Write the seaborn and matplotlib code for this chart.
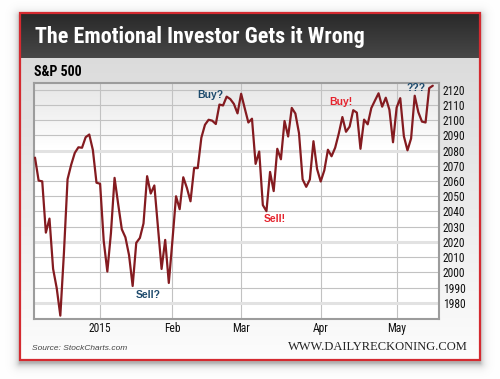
import numpy as np
import pandas as pd
import matplotlib
matplotlib.use("Agg")
import matplotlib.pyplot as plt
import matplotlib.font_manager as fm
import seaborn as sns
from matplotlib.patches import Rectangle

# S&P 500 daily closes, Dec 5 2014 - May 15 2015
START, END = "2014-12-05", "2015-05-15"
MARKET_HOLIDAYS = ["2014-12-25", "2015-01-01", "2015-01-19", "2015-02-16", "2015-04-03"]

CLOSE_DEC = [2075.4, 2060.3, 2059.8, 2026.1, 2035.3, 2002.3, 1989.6, 1971.5, 2012.9,
             2061.2, 2070.7, 2078.5, 2082.2, 2081.9, 2088.8, 2090.6, 2080.4, 2058.9]
CLOSE_JAN = [2058.2, 2020.6, 2000.5, 2025.9, 2062.1, 2044.8, 2028.3, 2023.0, 2011.3,
             1991.0, 2019.4, 2022.6, 2032.1, 2063.2, 2051.8, 2057.1, 2029.6, 2002.2,
             2021.3, 1993.0]
CLOSE_FEB = [2020.9, 2050.0, 2041.5, 2062.5, 2055.5, 2046.7, 2068.6, 2068.5, 2088.5,
             2097.0, 2100.3, 2099.7, 2097.5, 2110.3, 2109.7, 2115.5, 2113.9, 2110.7,
             2104.5]
CLOSE_MAR = [2117.4, 2107.8, 2098.5, 2101.0, 2071.3, 2079.4, 2044.2, 2040.2, 2066.0,
             2053.4, 2081.2, 2074.3, 2099.5, 2089.3, 2108.1, 2104.4, 2091.5, 2061.1,
             2056.2, 2061.0, 2086.2, 2067.9]
CLOSE_APR = [2059.7, 2067.0, 2080.6, 2076.3, 2081.9, 2091.2, 2102.1, 2092.4, 2095.8,
             2106.6, 2105.0, 2081.2, 2100.4, 2097.3, 2108.0, 2112.9, 2117.7, 2108.9,
             2114.8, 2106.9, 2085.5]
CLOSE_MAY = [2108.3, 2114.5, 2089.5, 2080.2, 2088.0, 2116.1, 2105.3, 2099.1, 2098.5,
             2121.1, 2122.7]

MONTH_LABELS = ["2015", "Feb", "Mar", "Apr", "May"]
Y_TICKS = list(range(1980, 2121, 10))

LINE_COLOR = "#841b20"
BLUE = "#1d4a6c"
RED = "#e5232d"

sns.set_style("white")
plt.rcParams["font.family"] = ["Liberation Sans", "DejaVu Sans"]


def narrow_font(bold):
    # look for an installed condensed / narrow face, best names first
    prefs = ["Liberation Sans Narrow", "Roboto Condensed", "Open Sans Condensed",
             "Noto Sans", "DejaVu Sans", "Roboto", "Open Sans"]
    found = []
    for f in fm.fontManager.ttflist:
        if f.style != "normal":
            continue
        w = f.weight if isinstance(f.weight, int) else fm.weight_dict.get(f.weight, 400)
        if (w >= 600) != bold:
            continue
        cond = ("Narrow" in f.name or "Condensed" in f.name
                or f.stretch in ("condensed", "semi-condensed", 75, 87))
        if cond:
            rank = next((i for i, p in enumerate(prefs) if f.name.startswith(p)), 99)
            found.append((rank, f.fname))
    if found:
        return fm.FontProperties(fname=sorted(found)[0][1])
    return fm.FontProperties(family=["Liberation Sans", "DejaVu Sans"],
                             weight="bold" if bold else "normal")


BOLD_N = narrow_font(True)
REG_N = narrow_font(False)

dates = pd.bdate_range(START, END, freq="C", holidays=MARKET_HOLIDAYS)
closes = CLOSE_DEC + CLOSE_JAN + CLOSE_FEB + CLOSE_MAR + CLOSE_APR + CLOSE_MAY
df = pd.DataFrame({"date": dates, "close": closes})
df["idx"] = np.arange(len(df))
month_start = df.groupby(df["date"].dt.to_period("M"))["idx"].min().values[1:]

# ---- background card (pixel space) ----
W, H = 500, 379
yy, xx = np.mgrid[0:H, 0:W] + 0.5
zero = np.zeros_like(xx)
dx = np.maximum.reduce([20 - xx, zero, xx - 480])
dy = np.maximum.reduce([16 - yy, zero, yy - 363])
g = 1 - 0.30 * np.exp(-np.hypot(dx, dy) / 3.5)

card = (xx >= 20) & (xx <= 480) & (yy >= 13) & (yy <= 360)
g[card] = (0.86 + 0.13 * np.clip((yy - 58) / 300, 0, 1))[card]
head = card & (yy < 58.5)
g[head] = (0.16 + 0.12 * (yy - 13) / 45)[head]
plot_area = (xx >= 34) & (xx <= 439.5) & (yy >= 82.5) & (yy <= 319)
g[plot_area] = (0.90 + 0.10 * np.clip((yy - 83) / 65, 0, 1))[plot_area]
img = np.dstack([g, g, g])

fig = plt.figure(figsize=(5, 3.79), dpi=100)
bg = fig.add_axes([0, 0, 1, 1])
bg.imshow(img, extent=[0, W, H, 0], aspect="auto", interpolation="bilinear")
bg.set_xlim(0, W)
bg.set_ylim(H, 0)
bg.axis("off")
bg.add_patch(Rectangle((20, 13), 460, 347, fill=False, ec="#d42a30", lw=1.6))

title = bg.text(35, 43.5, "The Emotional Investor Gets it Wrong", color="white",
                fontproperties=BOLD_N, fontsize=15.5, va="baseline", ha="left")
bg.text(34, 75.5, "S&P 500", color="black", fontproperties=BOLD_N, fontsize=10,
        va="baseline", ha="left")
bg.text(32, 350, "Source: StockCharts.com", color="#444444", fontsize=6,
        fontstyle="italic", va="baseline")
bg.text(468, 350, "WWW.DAILYRECKONING.COM", color="#222222", fontsize=9,
        family=["Liberation Serif", "DejaVu Serif"], va="baseline", ha="right")

# fit the title to the width it has in the original
fig.canvas.draw()
tw = title.get_window_extent().width
title.set_fontsize(15.5 * 331 / tw)

# ---- chart ----
ax = fig.add_axes([34 / W, 1 - 319 / H, (439.3 - 34) / W, (319 - 82.5) / H])
ax.set_facecolor("none")
for v in (1980, 2020, 2080):
    ax.axhline(v, color="#e2e2e2", lw=2.2, zorder=0.8)
sns.lineplot(data=df, x="idx", y="close", color=LINE_COLOR, lw=1.6, ax=ax, zorder=3)

ax.set_xlim(-0.28, 111.8)
ax.set_ylim(1969.3, 2124.8)
ax.set_yticks(Y_TICKS)
ax.set_xticks(month_start, MONTH_LABELS)
ax.yaxis.tick_right()
ax.grid(True, color="#c2c2c2", lw=0.8)
ax.tick_params(length=0, colors="#111111", pad=2.5)
for lab in ax.get_xticklabels() + ax.get_yticklabels():
    lab.set_fontproperties(REG_N)
    lab.set_fontsize(8.3)
ax.set_xlabel("")
ax.set_ylabel("")
for s in ax.spines.values():
    s.set_color("#9c9c9c")
    s.set_linewidth(1.5)

notes = [("Sell?", 31.3, 1985, BLUE), ("Buy?", 48.5, 2116.5, BLUE),
         ("Sell!", 66.3, 2035, RED), ("Buy!", 84.6, 2112, RED),
         ("???", 105.4, 2121.3, BLUE)]
for txt, x, y, c in notes:
    ax.text(x, y, txt, color=c, fontsize=7.5, fontweight="bold",
            ha="center", va="center", zorder=4)

fig.savefig("out.png", dpi=100)
